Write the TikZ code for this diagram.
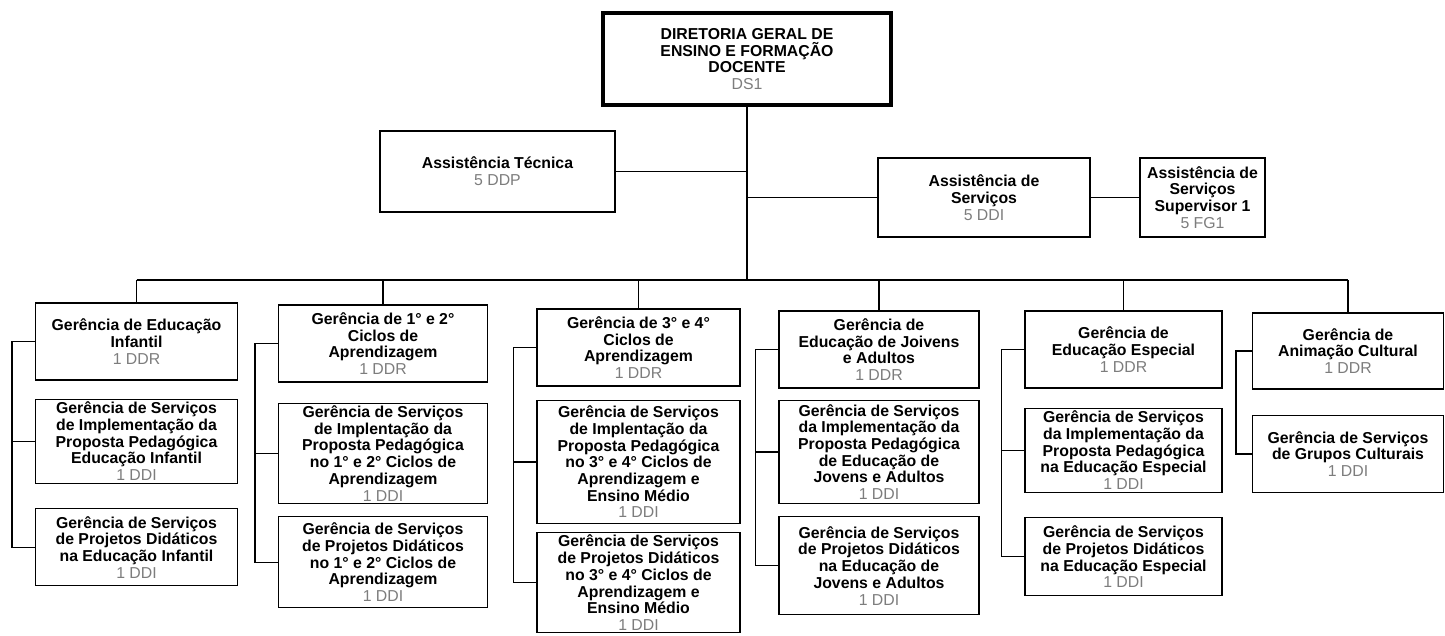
\documentclass[tikz,border=0pt]{standalone}
\usepackage{fontspec}
\setmainfont{Liberation Sans}
\usetikzlibrary{positioning}
\definecolor{codegray}{RGB}{125,125,125}
\newcommand{\cod}[1]{{\mdseries\color{codegray}#1}}

\begin{document}
\begin{tikzpicture}[x=0.02cm, y=-0.02cm,
    box/.style={draw=black, line width=0.8pt, fill=white, align=center, inner sep=0.5pt,
      font=\bfseries\fontsize{9}{9.5}\selectfont},
    topbox/.style={box, line width=2pt},
    link/.style={draw=black, line width=0.8pt}
  ]
  \useasboundingbox[fill=white] (0,0) rectangle (1445,636);

  % top of the chart
  \node[topbox, minimum width=5.76cm, minimum height=1.84cm] (dir) at (747,59)
    {DIRETORIA GERAL DE\\ENSINO E FORMAÇÃO\\DOCENTE\\\cod{DS1}};
  \node[box, minimum width=4.70cm, minimum height=1.62cm] (asstec) at (497.5,171.5)
    {Assistência Técnica\\\cod{5 DDP}};
  \node[box, minimum width=4.24cm, minimum height=1.58cm] (assserv) at (984,197.5)
    {Assistência de\\Serviços\\\cod{5 DDI}};
  \node[box, minimum width=2.50cm, minimum height=1.58cm] (supv) at (1202.5,197.5)
    {Assistência de\\Serviços\\Supervisor 1\\\cod{5 FG1}};

  % managements
  \node[box, minimum width=4.04cm, minimum height=1.54cm] (ger1) at (136.5,341.5)
    {Gerência de Educação\\Infantil\\\cod{1 DDR}};
  \node[box, minimum width=4.18cm, minimum height=1.54cm] (ger2) at (383,343.5)
    {Gerência de 1° e 2°\\Ciclos de\\Aprendizagem\\\cod{1 DDR}};
  \node[box, minimum width=4.06cm, minimum height=1.54cm] (ger3) at (638.5,347.5)
    {Gerência de 3° e 4°\\Ciclos de\\Aprendizagem\\\cod{1 DDR}};
  \node[box, minimum width=4.00cm, minimum height=1.54cm] (ger4) at (879,349.5)
    {Gerência de\\Educação de Joivens\\e Adultos\\\cod{1 DDR}};
  \node[box, minimum width=3.94cm, minimum height=1.54cm] (ger5) at (1123.5,349.5)
    {Gerência de\\Educação Especial\\\cod{1 DDR}};
  \node[box, minimum width=3.82cm, minimum height=1.52cm] (ger6) at (1348,351)
    {Gerência de\\Animação Cultural\\\cod{1 DDR}};

  % services
  \node[box, minimum width=4.04cm, minimum height=1.68cm, below=0.36cm of ger1] (sva1)
    {Gerência de Serviços\\de Implementação da\\Proposta Pedagógica\\Educação Infantil\\\cod{1 DDI}};
  \node[box, minimum width=4.04cm, minimum height=1.54cm, below=0.48cm of sva1] (svb1)
    {Gerência de Serviços\\de Projetos Didáticos\\na Educação Infantil\\\cod{1 DDI}};
  \node[box, minimum width=4.18cm, minimum height=2.00cm, below=0.40cm of ger2] (sva2)
    {Gerência de Serviços\\de Implentação da\\Proposta Pedagógica\\no 1° e 2° Ciclos de\\Aprendizagem\\\cod{1 DDI}};
  \node[box, minimum width=4.18cm, minimum height=1.82cm, below=0.24cm of sva2] (svb2)
    {Gerência de Serviços\\de Projetos Didáticos\\no 1° e 2° Ciclos de\\Aprendizagem\\\cod{1 DDI}};
  \node[box, minimum width=4.06cm, minimum height=2.46cm, below=0.26cm of ger3] (sva3)
    {Gerência de Serviços\\de Implentação da\\Proposta Pedagógica\\no 3° e 4° Ciclos de\\Aprendizagem e\\Ensino Médio\\\cod{1 DDI}};
  \node[box, minimum width=4.06cm, minimum height=2.00cm, below=0.16cm of sva3] (svb3)
    {Gerência de Serviços\\de Projetos Didáticos\\no 3° e 4° Ciclos de\\Aprendizagem e\\Ensino Médio\\\cod{1 DDI}};
  \node[box, minimum width=4.00cm, minimum height=2.06cm, below=0.22cm of ger4] (sva4)
    {Gerência de Serviços\\da Implementação da\\Proposta Pedagógica\\de Educação de\\Jovens e Adultos\\\cod{1 DDI}};
  \node[box, minimum width=4.00cm, minimum height=1.96cm, below=0.24cm of sva4] (svb4)
    {Gerência de Serviços\\de Projetos Didáticos\\na Educação de\\Jovens e Adultos\\\cod{1 DDI}};
  \node[box, minimum width=3.94cm, minimum height=1.68cm, below=0.38cm of ger5] (sva5)
    {Gerência de Serviços\\da Implementação da\\Proposta Pedagógica\\na Educação Especial\\\cod{1 DDI}};
  \node[box, minimum width=3.94cm, minimum height=1.56cm, below=0.48cm of sva5] (svb5)
    {Gerência de Serviços\\de Projetos Didáticos\\na Educação Especial\\\cod{1 DDI}};
  \node[box, minimum width=3.82cm, minimum height=1.54cm, below=0.50cm of ger6] (sva6)
    {Gerência de Serviços\\de Grupos Culturais\\\cod{1 DDI}};

  % connectors
  \coordinate (bus) at (747,280);
  \draw[link] (dir) -- (bus);
  \draw[link] (asstec.east) -- (asstec.east -| bus);
  \draw[link] (assserv.west) -- (assserv.west -| bus);
  \draw[link] (assserv) -- (supv);
  \draw[link] (ger1.north |- bus) -- (ger6.north |- bus);
  \foreach \i in {1,...,6}
    \draw[link] (ger\i.north) -- (ger\i.north |- bus);
  \foreach \i in {1,...,5} {
    \draw[link] (ger\i.west) -- ++(-23,0) |- (svb\i.west);
    \draw[link] (sva\i.west) -- ++(-23,0);
  }
  \draw[link] (ger6.west) -- ++(-16,0) |- (sva6.west);
\end{tikzpicture}
\end{document}
